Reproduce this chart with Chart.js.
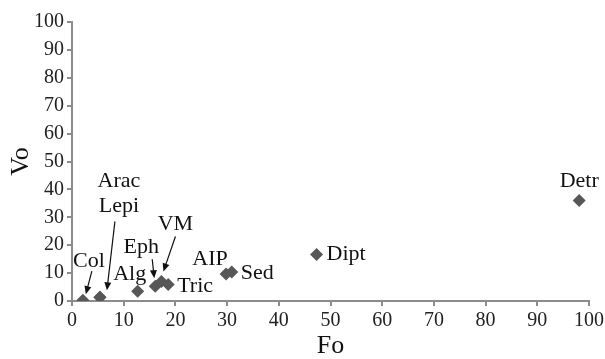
<!DOCTYPE html>
<html>
<head>
<meta charset="utf-8">
<script src="https://cdn.jsdelivr.net/npm/chart.js@4/dist/chart.umd.min.js"></script>
<style>
body{margin:0;background:#fff;}
</style>
</head>
<body>
<canvas id="foVoChart" width="605" height="359"></canvas>
<script>

// ===== data =====
let names = ["Col","Arac","Lepi","Alg","Eph","VM","Tric","AIP","Sed","Dipt","Detr"]
let foValues = [2.1, 5.4, 5.4, 12.7, 16.1, 17.3, 18.6, 29.8, 30.9, 47.3, 98.1]
let voValues = [0.3, 1.3, 1.3, 3.5, 5.3, 7.0, 5.9, 9.7, 10.4, 16.7, 36.0]
let xTicks = [0,10,20,30,40,50,60,70,80,90,100]
let yTicks = [0,10,20,30,40,50,60,70,80,90,100]

// label placement, pixels from the point
let labelPlace = {
Col:{dx:6,dy:-39,arrow:[9,-29,3,-6]},
Arac:{dx:19,dy:-116},
Lepi:{dx:19,dy:-91,arrow:[15,-76,7,-7]},
Alg:{dx:-8,dy:-17},
Eph:{dx:-14,dy:-39,arrow:[-3,-27,-1,-8]},
VM:{dx:14,dy:-57,arrow:[14,-45,2,-10]},
Tric:{dx:9,dy:2,align:"left"},
AIP:{dx:-16,dy:-15},
Sed:{dx:9,dy:1,align:"left"},
Dipt:{dx:10,dy:0,align:"left"},
Detr:{dx:0,dy:-19}
}

let serif = "'Liberation Serif', 'Times New Roman', serif"

let points = names.map((n,i)=>({x:foValues[i], y:voValues[i]}))

function drawArrow(ctx,x1,y1,x2,y2){
let ang = Math.atan2(y2-y1,x2-x1)
let head = 8
ctx.beginPath()
ctx.moveTo(x1,y1)
ctx.lineTo(x2-Math.cos(ang)*head*0.8,y2-Math.sin(ang)*head*0.8)
ctx.stroke()
ctx.beginPath()
ctx.moveTo(x2,y2)
ctx.lineTo(x2-head*Math.cos(ang)+3.5*Math.sin(ang), y2-head*Math.sin(ang)-3.5*Math.cos(ang))
ctx.lineTo(x2-head*Math.cos(ang)-3.5*Math.sin(ang), y2-head*Math.sin(ang)+3.5*Math.cos(ang))
ctx.closePath()
ctx.fill()
}

let pointLabels = {
id:"pointLabels",
afterDatasetsDraw(chart){
let ctx = chart.ctx
let meta = chart.getDatasetMeta(0)
ctx.save()
ctx.font = "22px " + serif
ctx.fillStyle = "#111"
ctx.strokeStyle = "#111"
ctx.lineWidth = 1.2
ctx.textBaseline = "middle"
names.forEach((n,i)=>{
let p = meta.data[i]
let pl = labelPlace[n]
if(!p || !pl) return
ctx.textAlign = pl.align || "center"
ctx.fillText(n, p.x+pl.dx, p.y+pl.dy)
if(pl.arrow){
let a = pl.arrow
drawArrow(ctx, p.x+a[0], p.y+a[1], p.x+a[2], p.y+a[3])
}
})
ctx.restore()
}
}

function axisOpts(title, ticks, fit, titlePad){
return {
type:"linear",
min:ticks[0],
max:ticks[ticks.length-1],
afterBuildTicks(axis){ axis.ticks = ticks.map(v=>({value:v})) },
afterFit:fit,
ticks:{font:{family:serif,size:20},color:"#222",padding:3},
grid:{display:true,drawOnChartArea:false,drawTicks:true,tickLength:5,color:"#8c8c8c",lineWidth:2},
border:{display:true,color:"#8c8c8c",width:2},
title:{display:true,text:title,font:{family:serif,size:26},color:"#111",padding:titlePad}
}
}

let ctx = document.getElementById("foVoChart").getContext("2d")

new Chart(ctx,{
type:"scatter",
data:{
datasets:[{
data:points,
pointStyle:"rectRot",
pointRadius:6.5,
pointHoverRadius:6.5,
backgroundColor:"#575757",
borderColor:"#575757",
borderWidth:0
}]
},
options:{
responsive:false,
animation:false,
layout:{padding:{top:22,right:0,left:6,bottom:0}},
plugins:{legend:{display:false},tooltip:{enabled:false}},
scales:{
x:axisOpts("Fo", xTicks, a=>{a.height=58; a.paddingRight=16}, {top:0,bottom:-3}),
y:axisOpts("Vo", yTicks, a=>{a.width=66}, {top:0,bottom:0})
}
},
plugins:[pointLabels]
})

</script>
</body>
</html>
